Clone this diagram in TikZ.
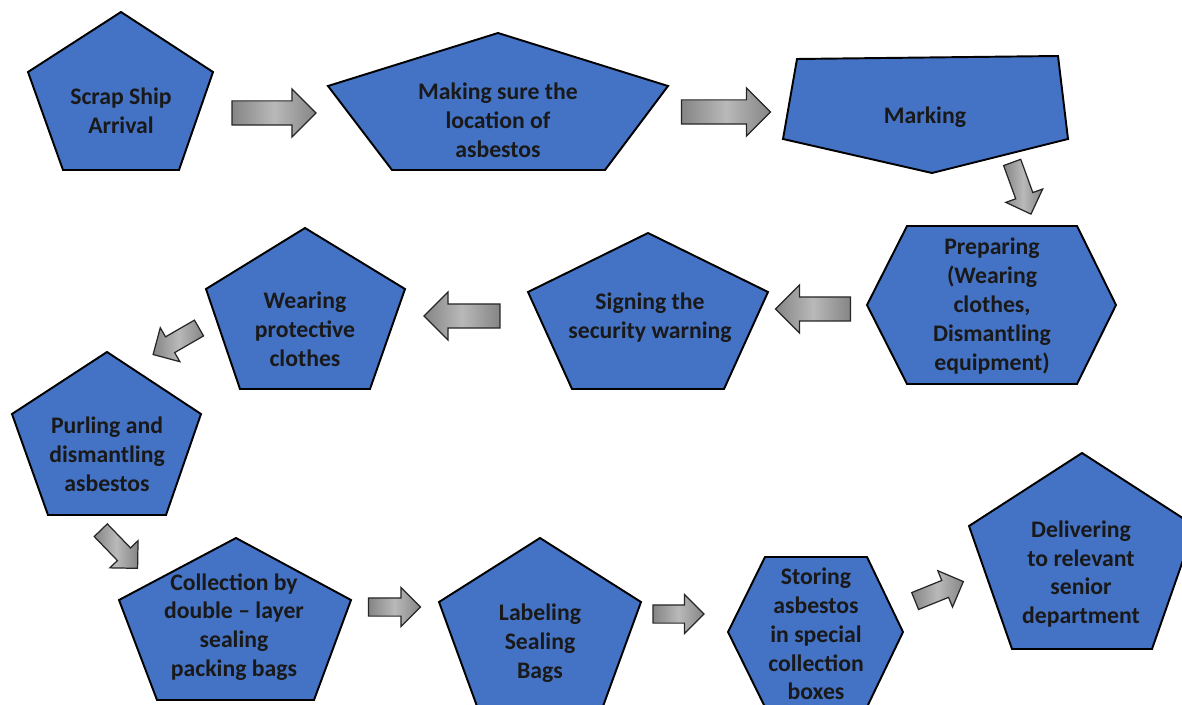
\documentclass[tikz,border=0pt]{standalone}
\usepackage{fontspec}
\setmainfont{Carlito}
\usetikzlibrary{shapes.arrows}
\definecolor{stepblue}{HTML}{4472C4}
\definecolor{arrowdark}{HTML}{858585}
\definecolor{arrowlight}{HTML}{B9B9B9}
\tikzset{
  steptext/.style={align=center, text=black!90, font=\bfseries\fontsize{13.5}{16.4}\selectfont},
  stepshape/.style={fill=stepblue, draw=black, line width=1.1pt, line join=miter},
  bigarrow/.style={single arrow, draw=black!85, line width=0.7pt, inner xsep=0pt,
    inner ysep=0.23cm, single arrow head extend=0.24cm,
    left color=arrowdark, right color=arrowdark, middle color=arrowlight},
  smallarrow/.style={bigarrow, inner ysep=0.17cm, single arrow head extend=0.21cm},
}
\begin{document}
\begin{tikzpicture}[x=0.02cm, y=-0.02cm]
    \useasboundingbox (0,0) rectangle (1182,705);
    \clip (0,0) rectangle (1182,705);
    \draw[stepshape] (121,12) -- (213,72) -- (179,170) -- (63,170) -- (28,72) -- cycle;
    \draw[stepshape] (498,33) -- (668,86) -- (605,170) -- (392,170) -- (328,86) -- cycle;
    \draw[stepshape] (797,59) -- (1058,56) -- (1068,139) -- (932,173) -- (783,139) -- cycle;
    \draw[stepshape] (907,226) -- (1077,226) -- (1116,305) -- (1077,384) -- (907,384) -- (867,305) -- cycle;
    \draw[stepshape] (648,233) -- (768,292) -- (724,389) -- (572,389) -- (528,292) -- cycle;
    \draw[stepshape] (305,228) -- (405,289) -- (370,389) -- (240,389) -- (206,289) -- cycle;
    \draw[stepshape] (107,352) -- (201,414) -- (166,515) -- (48,515) -- (12,414) -- cycle;
    \draw[stepshape] (236,538) -- (351,600) -- (314,700) -- (157,700) -- (119,600) -- cycle;
    \draw[stepshape] (540,538) -- (641,602) -- (602,709) -- (478,709) -- (439,602) -- cycle;
    \draw[stepshape] (765,557) -- (867,557) -- (903,632) -- (867,707) -- (765,707) -- (728,632) -- cycle;
    \draw[stepshape] (1082,453) -- (1195,526) -- (1152,649) -- (1012,649) -- (969,526) -- cycle;
    \node[steptext] (ship) at (121,111) {Scrap Ship\\Arrival};
    \node[steptext] (locate) at (498,120) {Making sure the\\location of\\asbestos};
    \node[steptext] (mark) at (925,117) {Marking};
    \node[steptext] (prepare) at (992,306) {Preparing\\(Wearing\\clothes,\\Dismantling\\equipment)};
    \node[steptext] (sign) at (650,318) {Signing the\\security warning};
    \node[steptext] (wear) at (305,329) {Wearing\\protective\\clothes};
    \node[steptext] (purl) at (107,454) {Purling and\\dismantling\\asbestos};
    \node[steptext] (collect) at (234,627) {Collection by\\double -- layer\\sealing\\packing bags};
    \node[steptext] (label) at (540,643) {Labeling\\Sealing\\Bags};
    \node[steptext] (store) at (816,634) {Storing\\asbestos\\in special\\collection\\boxes};
    \node[steptext] (deliver) at (1081,574) {Delivering\\to relevant\\senior\\department};
    \node[bigarrow, minimum height=1.68cm] (a1) at (268,113) {};
    \node[bigarrow, minimum height=1.78cm] (a2) at (720,112) {};
    \node[smallarrow, minimum height=1.1cm, rotate=-70] (a3) at (1020,184) {};
    \node[bigarrow, minimum height=1.5cm, rotate=180] (a4) at (819,309) {};
    \node[bigarrow, minimum height=1.52cm, rotate=180] (a5) at (468,316) {};
    \node[smallarrow, minimum height=1.06cm, rotate=210] (a6) at (180,339) {};
    \node[smallarrow, minimum height=1.06cm, rotate=-46] (a7) at (116,546) {};
    \node[smallarrow, minimum height=1.04cm] (a8) at (390,607) {};
    \node[smallarrow, minimum height=1.02cm] (a9) at (674,614) {};
    \node[smallarrow, minimum height=1.04cm, rotate=22] (a10) at (935,593) {};
\end{tikzpicture}
\end{document}
